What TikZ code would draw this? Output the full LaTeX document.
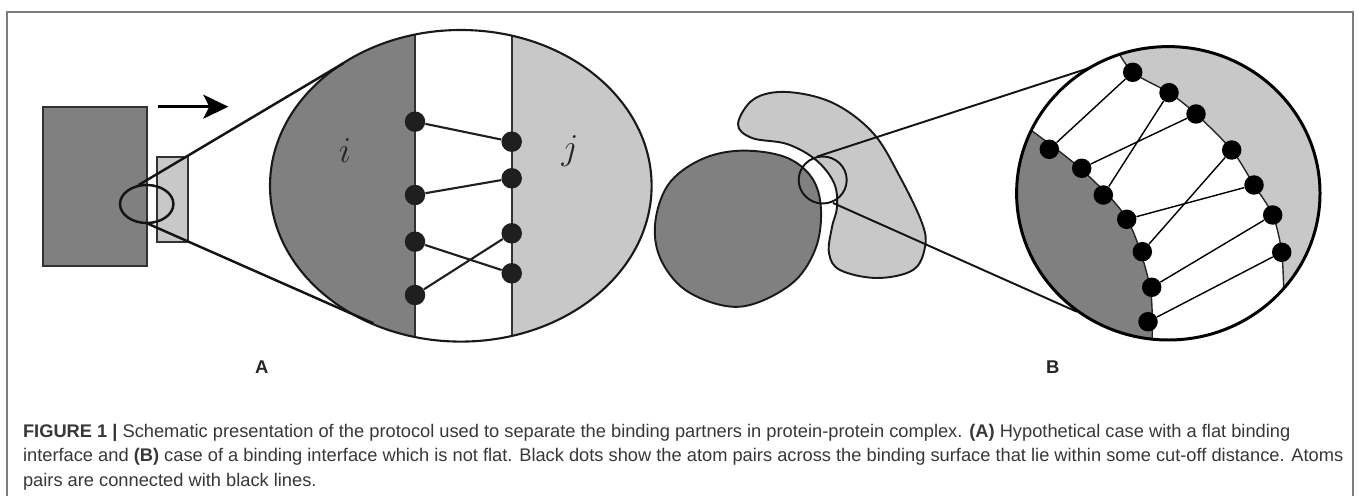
\documentclass[tikz,border=0pt]{standalone}
\usepackage{fontspec}
\newfontfamily\capfont{Liberation Sans}
\usetikzlibrary{arrows.meta,positioning,calc}
\definecolor{protdark}{RGB}{128,128,128}
\definecolor{protlight}{RGB}{200,200,200}
\definecolor{edgegray}{RGB}{50,50,50}
\definecolor{framegray}{RGB}{125,125,125}
\definecolor{captxt}{RGB}{55,55,55}
\tikzset{
  blkd/.style={draw=edgegray, fill=protdark, line width=1.1pt},
  blkl/.style={draw=edgegray, fill=protlight, line width=1.1pt},
  blob/.style={draw=black!90, line width=1.1pt},
  outlA/.style={black!90, line width=1.2pt},
  outlB/.style={black, line width=1.7pt},
  zoomln/.style={black!92, line width=1.4pt},
  ifc/.style={black!85, line width=0.8pt},
  atomA/.style={circle, fill=black!88, inner sep=0pt, minimum size=0.41cm},
  atomB/.style={circle, fill=black, inner sep=0pt, minimum size=0.39cm},
  pairA/.style={black!88, line width=1.2pt},
  pairB/.style={black, line width=0.8pt},
  mvarr/.style={-{Stealth[length=0.5cm, width=0.48cm, inset=0.12cm]}, black, line width=1.5pt},
  plab/.style={font=\capfont\bfseries\fontsize{10.5}{12}\selectfont, text=black!85},
  slab/.style={font=\fontsize{20}{24}\selectfont, text=black!85},
  capt/.style={font=\capfont\fontsize{10.4}{12}\selectfont, text=captxt, inner sep=0pt, anchor=base west},
}

\begin{document}
\begin{tikzpicture}[x=0.02cm, y=-0.02cm]
  \useasboundingbox (0,0) rectangle (1358,496);
  \draw[framegray, line width=1.1pt] (7.3,496) -- (7.3,11.7) -- (1353,11.7) -- (1353,496);

  % (A) flat interface
  \draw[blkd] (42.7,106.7) rectangle (146.7,265.7);
  \draw[blkl] (156.7,156.7) rectangle (188.3,241.7);
  \draw[mvarr] (158.3,106.7) -- (228.3,106.7);
  \begin{scope}
    \clip (460.8,185.8) ellipse [x radius=190.8, y radius=155.8];
    \fill[protdark] (260,20) rectangle (415,350);
    \fill[white] (415,20) rectangle (511.7,350);
    \fill[protlight] (511.7,20) rectangle (660,350);
    \draw[edgegray, line width=1.1pt] (415,20) -- (415,350) (511.7,20) -- (511.7,350);
  \end{scope}
  \draw[outlA] (460.8,185.8) ellipse [x radius=190.8, y radius=155.8];
  \draw[zoomln] (146.7,204) ellipse [x radius=26.7, y radius=19];
  \coordinate (za1) at (138.3,185.2);
  \coordinate (za2) at (146.7,223.2);
  \coordinate (za3) at (343.3,63.3);
  \coordinate (za4) at (373.3,323.3);
  \draw[zoomln] (za1) -- (za3);
  \draw[zoomln] (za2) -- (za4);
  \foreach \n/\yy in {1/121.7, 2/195, 3/241.7, 4/295}
    \node[atomA] (al\n) at (415,\yy) {};
  \foreach \n/\yy in {1/141.7, 2/178.3, 3/233.3, 4/273.3}
    \node[atomA] (ar\n) at (511.7,\yy) {};
  \foreach \p/\q in {1/1, 2/2, 3/4, 4/3}
    \draw[pairA] (al\p) -- (ar\q);
  \node[slab] (li) at (345,151) {$i$};
  \node[slab] (lj) at (570,151) {$j$};
  \node[plab] (la) at (261.7,366.7) {A};

  % (B) curved interface
  \draw[blob, fill=protlight] plot[smooth cycle, tension=0.6] coordinates {
    (738,124) (754,99) (787,92) (833,103) (873,133) (900,177) (922,223)
    (925,247) (913,270) (877,278) (840,270) (829,253) (832,227) (837,207)
    (834,183) (816,160) (787,144) (752,138)};
  \draw[blob, fill=protdark] plot[smooth cycle, tension=0.6] coordinates {
    (655,225) (668,185) (700,160) (740,150.7) (785,157) (812,178) (821,210)
    (815,250) (790,285) (740,306.7) (690,293) (662,262)};
  \draw[zoomln, line width=1.1pt] (822.7,180) ellipse [x radius=24, y radius=23.5];
  \coordinate (zb1) at (816.7,156.7);
  \coordinate (zb2) at (833,203);
  \coordinate (zb3) at (1093.3,66.7);
  \coordinate (zb4) at (1076.7,311.7);
  \draw[zoomln, line width=1.1pt] (zb1) -- (zb3);
  \draw[zoomln, line width=1.1pt] (zb2) -- (zb4);
  \begin{scope}
    \clip (1168.3,193.3) ellipse [x radius=151.7, y radius=146.7];
    \fill[white] (1000,40) rectangle (1330,350);
    \fill[protlight] plot[smooth] coordinates {(1116,48) (1132.7,72.3) (1169,92.7)
      (1196,114) (1231.7,150) (1254,185) (1272.7,215) (1281.7,252.3) (1284,300)}
      -- (1330,300) -- (1330,40) -- cycle;
    \fill[protdark] plot[smooth] coordinates {(1028,128) (1081,169) (1127,219)
      (1150,287) (1152,345)} -- (1000,345) -- (1000,120) -- cycle;
    \draw[ifc] plot[smooth] coordinates {(1116,48) (1132.7,72.3) (1169,92.7)
      (1196,114) (1231.7,150) (1254,185) (1272.7,215) (1281.7,252.3) (1284,300)};
    \draw[ifc] plot[smooth] coordinates {(1028,128) (1081,169) (1127,219)
      (1150,287) (1152,345)};
  \end{scope}
  \draw[outlB] (1168.3,193.3) ellipse [x radius=151.7, y radius=146.7];
  \foreach \n/\xx/\yy in {1/1049.3/149.3, 2/1081.7/168.3, 3/1103.3/195,
      4/1126.7/219.3, 5/1142.3/251.7, 6/1151.7/287.3, 7/1148/321.7}
    \node[atomB] (bl\n) at (\xx,\yy) {};
  \foreach \n/\xx/\yy in {1/1132.7/72.3, 2/1169/92.7, 3/1196/114,
      4/1231.7/150, 5/1254/185, 6/1272.7/215, 7/1281.7/252.3}
    \node[atomB] (br\n) at (\xx,\yy) {};
  \foreach \p/\q in {1/1, 2/3, 3/2, 4/5, 5/4, 6/6, 7/7}
    \draw[pairB] (bl\p) -- (br\q);
  \node[plab] (lb) at (1052.7,366.7) {B};

  % caption
  \node[capt] (cap1) at (22.7,437) {\textbf{FIGURE 1 |} Schematic presentation of the protocol used to separate the binding partners in protein-protein complex. \textbf{(A)} Hypothetical case with a flat binding};
  \node[capt] (cap2) at (22.7,461.5) {interface and \textbf{(B)} case of a binding interface which is not flat. Black dots show the atom pairs across the binding surface that lie within some cut-off distance. Atoms};
  \node[capt] (cap3) at (22.7,486) {pairs are connected with black lines.};
\end{tikzpicture}
\end{document}
